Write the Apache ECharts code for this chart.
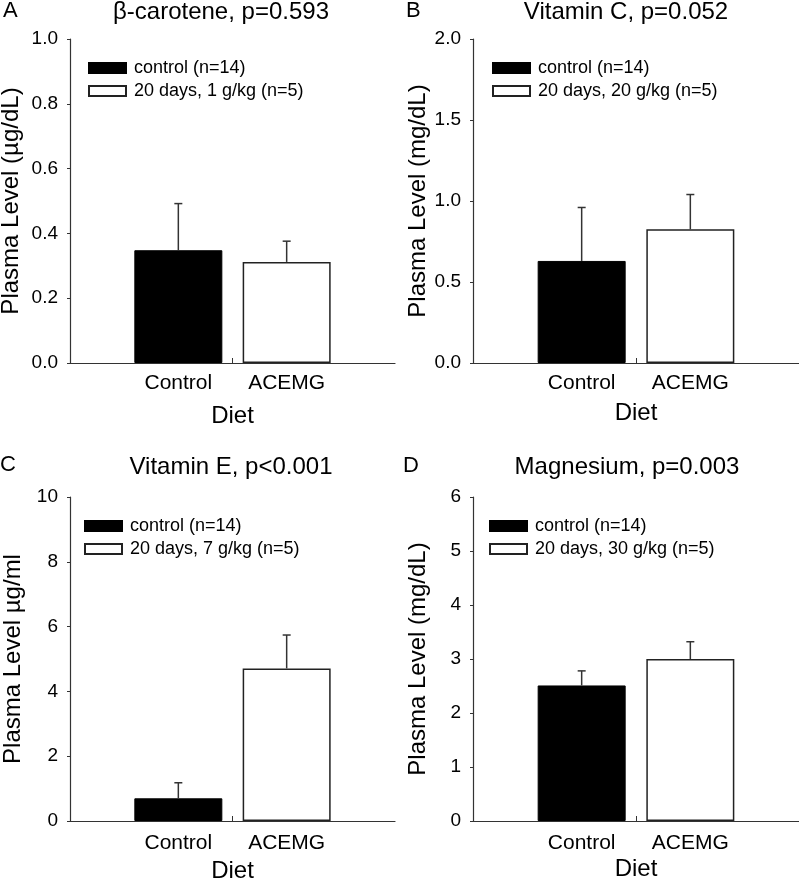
<!DOCTYPE html>
<html>
<head>
<meta charset="utf-8">
<script src="https://cdn.jsdelivr.net/npm/echarts@6/dist/echarts.min.js"></script>
<style>
  html, body { margin: 0; padding: 0; background: #fff; }
  #chart { width: 799px; height: 879px; }
</style>
</head>
<body>
<div id="chart"></div>
<script>
// data
const categories = ['Control', 'ACEMG']
const panelLetters = ['A', 'B', 'C', 'D']
const panelTitles = ['β-carotene, p=0.593', 'Vitamin C, p=0.052', 'Vitamin E, p<0.001', 'Magnesium, p=0.003']
const yNames = ['Plasma Level (µg/dL)', 'Plasma Level (mg/dL)', 'Plasma Level µg/ml', 'Plasma Level (mg/dL)']
const controlLabel = 'control (n=14)'
const treatLabels = ['20 days, 1 g/kg (n=5)', '20 days, 20 g/kg (n=5)', '20 days, 7 g/kg (n=5)', '20 days, 30 g/kg (n=5)']
const controlMean = [0.348, 0.63, 0.70, 2.51]
const controlErr = [0.144, 0.33, 0.48, 0.27]
const acemgMean = [0.312, 0.825, 4.71, 3.0]
const acemgErr = [0.064, 0.215, 1.03, 0.32]
const yMax = [1.0, 2.0, 10, 6]
const yStep = [0.2, 0.5, 2, 1]
const yDecimals = [1, 1, 0, 0]
const xName = 'Diet'

// panel placement (pixels)
const layout = [
  { left: 70, top: 39, width: 325, titleX: 221, titleY: 0, letterX: 3, letterY: 0, legendX: 88, legendY: 58, yGap: 47, xGap: 41, xMargin: 10 },
  { left: 473, top: 39, width: 326, titleX: 626, titleY: 0, letterX: 406, letterY: 0, legendX: 492, legendY: 58, yGap: 43, xGap: 38, xMargin: 10 },
  { left: 70, top: 497, width: 325, titleX: 231, titleY: 455, letterX: 0, letterY: 454, legendX: 84, legendY: 516, yGap: 45, xGap: 38, xMargin: 12 },
  { left: 473, top: 497, width: 326, titleX: 627, titleY: 455, letterX: 403, letterY: 455, legendX: 489, legendY: 516, yGap: 43, xGap: 36, xMargin: 12 }
]

const font = 'Liberation Sans, Arial, sans-serif'
const axisColor = '#333'

const chart = echarts.init(document.getElementById('chart'))

const titles = []
const grids = []
const xAxes = []
const yAxes = []
const legends = []
const series = []

layout.forEach((p, i) => {
  titles.push({
    text: panelTitles[i],
    left: p.titleX,
    top: p.titleY,
    textAlign: 'center',
    padding: 0,
    textStyle: { fontFamily: font, fontSize: 24, fontWeight: 'normal', color: '#000' }
  })
  titles.push({
    text: panelLetters[i],
    left: p.letterX,
    top: p.letterY,
    padding: 0,
    textStyle: { fontFamily: font, fontSize: 22, fontWeight: 'normal', color: '#000' }
  })
  grids.push({ left: p.left, top: p.top, width: p.width, height: 324, containLabel: false, outerBoundsMode: 'none' })
  xAxes.push({
    type: 'value',
    gridIndex: i,
    min: 0,
    max: 3,
    z: 10,
    name: xName,
    nameLocation: 'middle',
    nameGap: p.xGap,
    nameTextStyle: { fontFamily: font, fontSize: 24, color: '#000' },
    axisLine: { show: true, lineStyle: { color: axisColor, width: 1.2 } },
    axisTick: { show: true, inside: true, length: 5, customValues: [1.5], lineStyle: { color: axisColor } },
    axisLabel: {
      customValues: [1, 2],
      formatter: v => categories[Math.round(v) - 1],
      margin: p.xMargin,
      fontFamily: font,
      fontSize: 21,
      color: '#000'
    },
    splitLine: { show: false }
  })
  yAxes.push({
    type: 'value',
    gridIndex: i,
    min: 0,
    max: yMax[i],
    interval: yStep[i],
    name: yNames[i],
    nameLocation: 'middle',
    nameGap: p.yGap,
    nameTextStyle: { fontFamily: font, fontSize: 24, color: '#000' },
    axisLine: { show: true, lineStyle: { color: axisColor, width: 1.2 } },
    axisTick: { show: true, length: 3, lineStyle: { color: axisColor } },
    axisLabel: {
      formatter: v => v.toFixed(yDecimals[i]),
      margin: 12,
      fontFamily: font,
      fontSize: 19,
      color: '#000'
    },
    splitLine: { show: false }
  })
  legends.push({
    orient: 'vertical',
    left: p.legendX,
    top: p.legendY,
    padding: 0,
    itemGap: 3,
    itemWidth: 37,
    itemHeight: 10,
    icon: 'rect',
    selectedMode: false,
    data: [controlLabel, treatLabels[i]],
    textStyle: { fontFamily: font, fontSize: 18, lineHeight: 20, color: '#000', padding: [0, 0, 0, 3] }
  })
  series.push({
    name: controlLabel,
    type: 'bar',
    xAxisIndex: i,
    yAxisIndex: i,
    barWidth: 88,
    barGap: '-100%',
    data: [[1, controlMean[i]]],
    itemStyle: { color: '#000', borderColor: '#000', borderWidth: 1 },
    silent: true
  })
  series.push({
    name: treatLabels[i],
    type: 'bar',
    xAxisIndex: i,
    yAxisIndex: i,
    barWidth: 88,
    barGap: '-100%',
    data: [[2, acemgMean[i]]],
    itemStyle: { color: '#fff', borderColor: '#222', borderWidth: 1.5 },
    silent: true
  })
  // upper error bars
  series.push({
    type: 'custom',
    xAxisIndex: i,
    yAxisIndex: i,
    z: 5,
    silent: true,
    encode: { x: 0, y: 1 },
    data: [[1, controlMean[i], controlErr[i]], [2, acemgMean[i], acemgErr[i]]],
    renderItem: function (params, api) {
      const base = api.coord([api.value(0), api.value(1)])
      const top = api.coord([api.value(0), api.value(1) + api.value(2)])
      const style = { stroke: '#333', lineWidth: 1.5 }
      return {
        type: 'group',
        children: [
          { type: 'line', shape: { x1: base[0], y1: base[1], x2: top[0], y2: top[1] }, style: style },
          { type: 'line', shape: { x1: top[0] - 4, y1: top[1], x2: top[0] + 4, y2: top[1] }, style: style }
        ]
      }
    }
  })
})

chart.setOption({
  backgroundColor: '#fff',
  animation: false,
  title: titles,
  grid: grids,
  xAxis: xAxes,
  yAxis: yAxes,
  legend: legends,
  series: series
})
</script>
</body>
</html>
